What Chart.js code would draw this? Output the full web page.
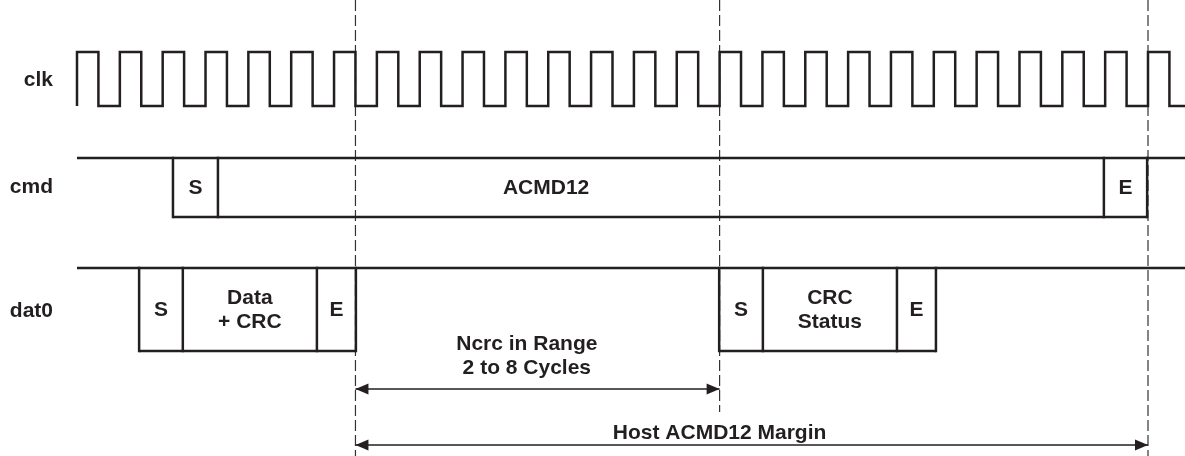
<!DOCTYPE html>
<html>
<head>
<meta charset="utf-8">
<title>ACMD12 timing</title>
<script src="https://cdn.jsdelivr.net/npm/chart.js@4/dist/chart.umd.min.js"></script>
<style>
  html, body { margin: 0; padding: 0; background: #fff; }
  canvas { display: block; }
</style>
</head>
<body>
<canvas id="timing" width="1185" height="456"></canvas>
<script>
// --- data (x in clock cycles, 0 = first rising edge) ---
const signalNames = ['clk', 'cmd', 'dat0'];
const clkRisingEdges = [0, 1, 2, 3, 4, 5, 6, 7, 8, 9, 10, 11, 12, 13, 14, 15, 16, 17, 18, 19, 20, 21, 22, 23, 24, 25];
const clkHighFraction = 0.5;

const cmdFieldLabels = ['S', 'ACMD12', 'E'];
const cmdFieldEdges = [2.24, 3.29, 23.97, 24.98];

const dataBlockLabels = ['S', 'Data\n+ CRC', 'E'];
const dataBlockEdges = [1.45, 2.47, 5.6, 6.51];

const crcBlockLabels = ['S', 'CRC\nStatus', 'E'];
const crcBlockEdges = [14.99, 16.01, 19.14, 20.05];

const markerCycles = [6.5, 15, 25];

const spanLabels = ['Ncrc in Range\n2 to 8 Cycles', 'Host ACMD12 Margin'];
const spanFrom = [6.5, 6.5];
const spanTo = [15, 25];

// --- layout (diagram units, y grows downward) ---
const CYCLE_PX = 42.84;
const ORIGIN_PX = 77;
const W = 1185, H = 456;
const lane = {
    clk: { hi: 52, lo: 106, name: 79 },
    cmd: { top: 158, bot: 217, name: 186 },
    dat0: { top: 268, bot: 351, name: 310 }
};
const nameRight = -0.56;          // cycles, right edge of signal names
const acmdLabelAt = 10.95;        // cycles
const spanTextAt = [10.5, 15.0];  // cycles
const spanTextY = [[343, 367], [432]];
const spanArrowY = [389, 445];
const markerEndY = [H, 412, H];

const INK = '#231f20';
const FONT = 'bold 21px "Liberation Sans", Arial, sans-serif';

const xMin = -ORIGIN_PX / CYCLE_PX;
const xMax = (W - ORIGIN_PX) / CYCLE_PX;

const datasets = [];
function seg(points, extra) {
    datasets.push(Object.assign({
        data: points,
        showLine: true,
        borderColor: INK,
        borderWidth: 2.5,
        pointRadius: 0,
        fill: false,
        borderJoinStyle: 'miter',
        tension: 0
    }, extra || {}));
}

// clock waveform
const clkPts = [];
clkRisingEdges.forEach(function (r) {
    const f = r + clkHighFraction;
    clkPts.push({ x: r, y: lane.clk.lo }, { x: r, y: lane.clk.hi }, { x: f, y: lane.clk.hi }, { x: f, y: lane.clk.lo });
});
clkPts.push({ x: xMax, y: lane.clk.lo });
seg(clkPts);

// bus lanes: idle top line + boxes
function boxes(edges, top, bot) {
    seg([{ x: edges[0], y: bot }, { x: edges[edges.length - 1], y: bot }]);
    edges.forEach(function (e) {
        seg([{ x: e, y: top }, { x: e, y: bot }], { borderCapStyle: 'square' });
    });
}
seg([{ x: 0, y: lane.cmd.top }, { x: xMax, y: lane.cmd.top }]);
boxes(cmdFieldEdges, lane.cmd.top, lane.cmd.bot);
seg([{ x: 0, y: lane.dat0.top }, { x: xMax, y: lane.dat0.top }]);
boxes(dataBlockEdges, lane.dat0.top, lane.dat0.bot);
boxes(crcBlockEdges, lane.dat0.top, lane.dat0.bot);

// dashed reference lines
markerCycles.forEach(function (m, i) {
    seg([{ x: m, y: 0 }, { x: m, y: markerEndY[i] }], {
        borderWidth: 1.2, borderColor: '#333', borderDash: [11, 4]
    });
});

// span arrows (shafts)
spanFrom.forEach(function (a, i) {
    seg([{ x: a, y: spanArrowY[i] }, { x: spanTo[i], y: spanArrowY[i] }], { borderWidth: 1.7 });
});

const annotate = {
    id: 'annotate',
    afterDatasetsDraw: function (chart) {
        const ctx = chart.ctx;
        const xs = chart.scales.x, ys = chart.scales.y;
        const px = function (v) { return xs.getPixelForValue(v); };
        const py = function (v) { return ys.getPixelForValue(v); };
        ctx.save();
        ctx.fillStyle = INK;
        ctx.font = FONT;
        ctx.textBaseline = 'middle';

        // signal names
        ctx.textAlign = 'right';
        signalNames.forEach(function (n) {
            ctx.fillText(n, px(nameRight), py(lane[n].name) + 1);
        });

        ctx.textAlign = 'center';
        function multiline(text, x, yc) {
            const lines = text.split('\n');
            const lh = 24;
            lines.forEach(function (l, k) {
                ctx.fillText(l, x, yc + 1 + (k - (lines.length - 1) / 2) * lh);
            });
        }
        function boxText(labels, edges, yc, overrideAt) {
            labels.forEach(function (l, k) {
                const c = (overrideAt && overrideAt[k] != null) ? overrideAt[k] : (edges[k] + edges[k + 1]) / 2;
                multiline(l, px(c), yc);
            });
        }
        boxText(cmdFieldLabels, cmdFieldEdges, py((lane.cmd.top + lane.cmd.bot) / 2), [null, acmdLabelAt, null]);
        const dmid = py((lane.dat0.top + lane.dat0.bot) / 2);
        boxText(dataBlockLabels, dataBlockEdges, dmid);
        boxText(crcBlockLabels, crcBlockEdges, dmid);

        // span labels + arrow heads
        spanLabels.forEach(function (t, i) {
            t.split('\n').forEach(function (l, k) {
                ctx.fillText(l, px(spanTextAt[i]), py(spanTextY[i][k]) + 1);
            });
            const y = py(spanArrowY[i]);
            const a = px(spanFrom[i]), b = px(spanTo[i]);
            ctx.beginPath();
            ctx.moveTo(a, y); ctx.lineTo(a + 13, y - 5.5); ctx.lineTo(a + 13, y + 5.5); ctx.closePath();
            ctx.fill();
            ctx.beginPath();
            ctx.moveTo(b, y); ctx.lineTo(b - 13, y - 5.5); ctx.lineTo(b - 13, y + 5.5); ctx.closePath();
            ctx.fill();
        });
        ctx.restore();
    }
};

new Chart(document.getElementById('timing').getContext('2d'), {
    type: 'scatter',
    data: { datasets: datasets },
    options: {
        responsive: false,
        animation: false,
        layout: { padding: 0 },
        plugins: { legend: { display: false }, tooltip: { enabled: false } },
        scales: {
            x: { type: 'linear', min: xMin, max: xMax, display: false },
            y: { type: 'linear', min: 0, max: H, reverse: true, display: false }
        }
    },
    plugins: [annotate]
});
</script>
</body>
</html>
